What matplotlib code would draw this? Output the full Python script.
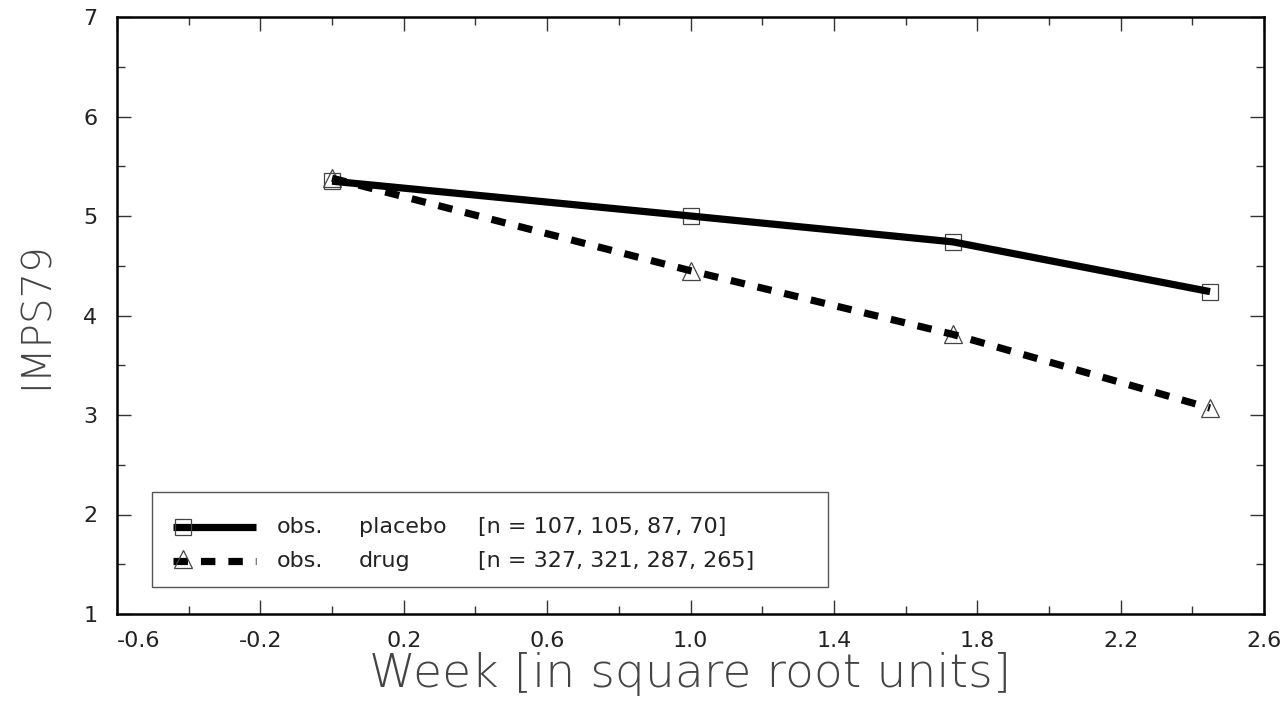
import numpy as np
import matplotlib.pyplot as plt
from matplotlib.patches import Rectangle
from matplotlib.ticker import MultipleLocator

# data (week in square-root units)
weeks = np.sqrt([0, 1, 3, 6])
placebo = [5.35, 5.00, 4.74, 4.24]
drug = [5.38, 4.45, 3.81, 3.07]
n_placebo = [107, 105, 87, 70]
n_drug = [327, 321, 287, 265]
xticks = [-0.6, -0.2, 0.2, 0.6, 1.0, 1.4, 1.8, 2.2, 2.6]

txt = '#222222'
lw = 5.2
dash = (0, (2.0, 1.8))
plt.rcParams['font.family'] = ['DejaVu Sans']

fig = plt.figure(figsize=(12.87, 7.12), dpi=100)
ax = fig.add_axes([117 / 1287, 1 - 614 / 712, 1147 / 1287, 597 / 712])

# markers under the lines
ax.plot(weeks, placebo, ls='none', marker='s', ms=11, mfc='none',
        mec='#444444', mew=0.9, zorder=2)
ax.plot(weeks, drug, ls='none', marker='^', ms=13, mfc='none',
        mec='#444444', mew=0.9, zorder=2)
ax.plot(weeks, placebo, color='black', lw=lw, solid_capstyle='butt', zorder=3)
ax.plot(weeks, drug, color='black', lw=lw, ls=dash,
        dash_capstyle='butt', zorder=3)

ax.set_xlim(-0.6, 2.6)
ax.set_ylim(1, 7)
ax.set_xticks(xticks)
ax.set_xticklabels([f'{v:.1f}' for v in xticks])
ax.xaxis.set_minor_locator(MultipleLocator(0.2))
ax.yaxis.set_major_locator(MultipleLocator(1))
ax.yaxis.set_minor_locator(MultipleLocator(0.5))
ax.tick_params(which='both', direction='in', top=True, right=True,
               width=1, color='#333333', labelsize=16, labelcolor=txt)
ax.tick_params(which='major', length=10)
ax.tick_params(which='minor', length=6)
ax.tick_params(axis='x', pad=12)
ax.tick_params(axis='y', pad=14)
ax.get_xticklabels()[0].set_horizontalalignment('left')
for s in ax.spines.values():
    s.set_linewidth(1.8)

ax.set_xlabel('Week [in square root units]', fontsize=34, color='#444444',
              fontweight='light', labelpad=1)
ax.set_ylabel('IMPS79', fontsize=29, color='#444444', fontweight='light',
              labelpad=20)

# legend drawn by hand so the columns line up
ax.add_patch(Rectangle((0.0305, 0.0452), 0.5894, 0.1592, transform=ax.transAxes,
                       fill=False, ec='#555555', lw=1, zorder=4))
rows = [0.1457, 0.0888]
ax.plot([0.0488, 0.1212], [rows[0]] * 2, transform=ax.transAxes, color='black',
        lw=lw, solid_capstyle='butt', zorder=5)
ax.plot([0.0575], [rows[0]], transform=ax.transAxes, marker='s', ms=11,
        mfc='none', mec='#444444', mew=0.9, zorder=5)
ax.plot([0.0488, 0.1212], [rows[1]] * 2, transform=ax.transAxes, color='black',
        lw=lw, ls=dash, dash_capstyle='butt', zorder=5)
ax.plot([0.0575], [rows[1] + 0.004], transform=ax.transAxes, marker='^', ms=13,
        mfc='none', mec='#444444', mew=0.9, zorder=5)
labels = [('placebo', n_placebo), ('drug', n_drug)]
for y, (name, n) in zip(rows, labels):
    kw = dict(transform=ax.transAxes, fontsize=16, color=txt, va='center', zorder=5)
    ax.text(0.1395, y, 'obs.', **kw)
    ax.text(0.211, y, name, **kw)
    ax.text(0.3147, y, '[n = ' + ', '.join(str(v) for v in n) + ']', **kw)

fig.savefig('out.png', dpi=100)
